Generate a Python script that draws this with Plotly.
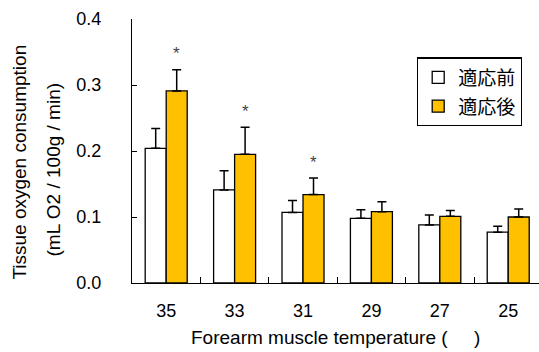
import plotly.graph_objects as go

categories = ["35", "33", "31", "29", "27", "25"]
before_values = [0.204, 0.141, 0.107, 0.098, 0.088, 0.077]
before_errors = [0.030, 0.029, 0.018, 0.013, 0.015, 0.009]
after_values = [0.291, 0.195, 0.134, 0.108, 0.101, 0.100]
after_errors = [0.032, 0.041, 0.025, 0.015, 0.009, 0.012]
significant = [True, True, True, False, False, False]
series_names = ["適応前", "適応後"]
y_ticks = [0.0, 0.1, 0.2, 0.3, 0.4]

FONT = "Liberation Sans, Arial, sans-serif"
CJK = "Noto Sans CJK JP, sans-serif"

fig = go.Figure()
fig.add_trace(go.Bar(
    name=series_names[0], x=categories, y=before_values,
    marker=dict(color="white", line=dict(color="black", width=1.3)),
    error_y=dict(type="data", array=before_errors, arrayminus=[0] * len(before_errors),
                 symmetric=False, color="black", thickness=1.5, width=4.5),
    legendgroup="a",
))
fig.add_trace(go.Bar(
    name=series_names[1], x=categories, y=after_values,
    marker=dict(color="#FFC000", line=dict(color="black", width=1.3)),
    error_y=dict(type="data", array=after_errors, arrayminus=[0] * len(after_errors),
                 symmetric=False, color="black", thickness=1.5, width=4.5),
    legendgroup="b",
))

annotations = []
for i, (v, e, s) in enumerate(zip(after_values, after_errors, significant)):
    if s:
        annotations.append(dict(x=i, y=v + e, xref="x", yref="y", text="*", showarrow=False,
                                xshift=10.7, yshift=16, yanchor="middle",
                                font=dict(family=FONT, size=17, color="#444444")))

annotations += [
    dict(xref="paper", yref="paper", x=0, y=0.456, xshift=-112, text="Tissue oxygen consumption",
         textangle=-90, showarrow=False, xanchor="center", yanchor="middle",
         font=dict(family=FONT, size=19, color="black")),
    dict(xref="paper", yref="paper", x=0, y=0.43, xshift=-79, text="(mL O2 / 100g / min)",
         textangle=-90, showarrow=False, xanchor="center", yanchor="middle",
         font=dict(family=FONT, size=19, color="black")),
    dict(xref="paper", yref="paper", x=0.5, y=0, yshift=-54,
         text="Forearm muscle temperature (\u00a0\u00a0\u00a0\u00a0\u00a0)",
         showarrow=False, xanchor="center", yanchor="middle",
         font=dict(family=FONT, size=19, color="black")),
]

fig.update_layout(
    width=539, height=352,
    margin=dict(l=132, r=0, t=19, b=69),
    paper_bgcolor="white", plot_bgcolor="white",
    barmode="group", bargap=0.386, bargroupgap=0,
    font=dict(family=FONT, size=18, color="black"),
    legend=dict(x=0.70, y=0.855, xanchor="left", yanchor="top",
                bordercolor="black", borderwidth=1.3, bgcolor="white",
                font=dict(family=CJK, size=19, color="black"),
                traceorder="grouped", tracegroupgap=1),
    annotations=annotations,
)
fig.update_xaxes(type="category", range=[-0.5, 5.45], showline=True, linecolor="black", linewidth=1.3,
                 ticks="inside", tickson="boundaries", ticklen=6, tickcolor="black", tickwidth=1.3,
                 showgrid=False, zeroline=False, ticklabelstandoff=11,
                 tickfont=dict(family=FONT, size=18))
fig.update_yaxes(range=[0, 0.4], tickvals=y_ticks, tickformat=".1f", showline=True,
                 linecolor="black", linewidth=1.3, ticks="inside", ticklen=5, tickcolor="black",
                 tickwidth=1.3, showgrid=False, zeroline=False, ticklabelstandoff=26,
                 tickfont=dict(family=FONT, size=18))

fig.write_html("out.html", config={"displayModeBar": False},
               post_script="document.body.style.margin='0';document.body.style.padding='0';")
